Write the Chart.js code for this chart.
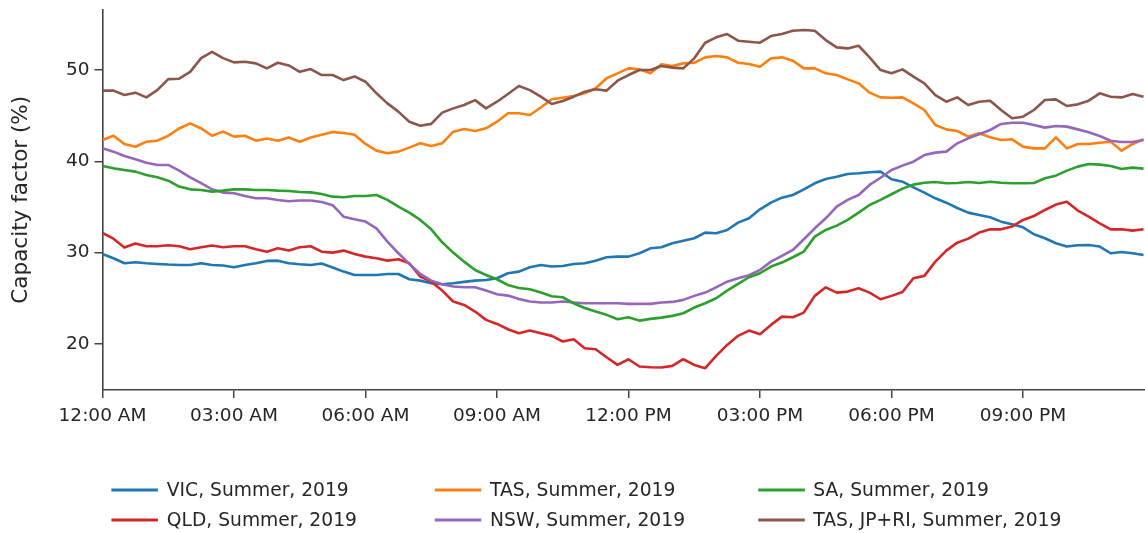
<!DOCTYPE html>
<html>
<head>
<meta charset="utf-8">
<script src="https://cdn.jsdelivr.net/npm/chart.js@4.4.1/dist/chart.umd.min.js"></script>
<style>
    html, body { margin: 0; padding: 0; background: #fff; overflow: hidden; }
</style>
</head>
<body>
<canvas id="capacity_factor_chart" width="1145" height="533"></canvas>
<script>
// minutes after midnight, one reading every 15 minutes
const minutes = Array.from({ length: 96 }, (_, i) => i * 15);

const series_labels = [
    "VIC, Summer, 2019",
    "QLD, Summer, 2019",
    "TAS, Summer, 2019",
    "NSW, Summer, 2019",
    "SA, Summer, 2019",
    "TAS, JP+RI, Summer, 2019"
];

const vic_values = [
    29.85, 29.38, 28.83, 28.94, 28.83, 28.76, 28.69, 28.65, 28.65, 28.83, 28.65, 28.58, 28.4, 28.65, 28.83, 29.09, 29.12, 28.83, 28.72, 28.65, 28.8, 28.36, 27.92, 27.55,
    27.55, 27.55, 27.66, 27.66, 27.08, 26.93, 26.64, 26.53, 26.64, 26.79, 26.93, 27.0, 27.19, 27.74, 27.92, 28.4, 28.65, 28.47, 28.54, 28.76, 28.83, 29.12, 29.49, 29.56,
    29.56, 29.93, 30.47, 30.58, 31.02, 31.31, 31.57, 32.19, 32.12, 32.48, 33.28, 33.76, 34.74, 35.47, 36.02, 36.31, 36.93, 37.59, 38.07, 38.32, 38.61, 38.69, 38.8, 38.87,
    38.03, 37.77, 37.15, 36.57, 35.95, 35.47, 34.89, 34.38, 34.12, 33.87, 33.39, 33.1, 32.77, 32.01, 31.57, 31.02, 30.66, 30.8, 30.84, 30.66, 29.93, 30.07, 29.93, 29.74
];

const qld_values = [
    32.15, 31.53, 30.55, 31.0, 30.7, 30.7, 30.8, 30.7, 30.36, 30.58, 30.77, 30.58, 30.7, 30.7, 30.36, 30.1, 30.47, 30.22, 30.58, 30.7, 30.1, 30.0, 30.22, 29.85,
    29.56, 29.38, 29.12, 29.27, 28.83, 27.37, 26.82, 25.84, 24.64, 24.27, 23.54, 22.63, 22.19, 21.6, 21.17, 21.46, 21.17, 20.88, 20.26, 20.51, 19.53, 19.42, 18.54, 17.7,
    18.32, 17.52, 17.45, 17.41, 17.59, 18.32, 17.7, 17.34, 18.69, 19.89, 20.88, 21.46, 21.06, 22.08, 22.99, 22.92, 23.43, 25.26, 26.2, 25.62, 25.73, 26.09, 25.62, 24.89,
    25.26, 25.69, 27.19, 27.45, 29.01, 30.22, 31.09, 31.53, 32.19, 32.55, 32.55, 32.85, 33.58, 34.01, 34.67, 35.26, 35.58, 34.6, 33.94, 33.21, 32.55, 32.55, 32.41, 32.55
];

const tas_values = [
    42.34, 42.8, 41.9, 41.6, 42.15, 42.26, 42.8, 43.6, 44.16, 43.6, 42.8, 43.25, 42.7, 42.8, 42.26, 42.5, 42.26, 42.6, 42.15, 42.6, 42.9, 43.2, 43.1, 42.9,
    41.9, 41.17, 40.88, 41.06, 41.5, 41.97, 41.68, 41.97, 43.25, 43.54, 43.32, 43.61, 44.34, 45.26, 45.26, 45.07, 45.9, 46.79, 46.97, 47.15, 47.45, 48.0, 49.1, 49.64,
    50.18, 50.07, 49.64, 50.62, 50.44, 50.73, 50.8, 51.39, 51.53, 51.39, 50.8, 50.66, 50.36, 51.28, 51.39, 51.02, 50.18, 50.18, 49.64, 49.45, 48.98, 48.54, 47.52, 47.0,
    46.97, 47.0, 46.35, 45.62, 43.98, 43.5, 43.32, 42.7, 43.07, 42.63, 42.34, 42.41, 41.61, 41.42, 41.42, 42.63, 41.42, 41.9, 41.9, 42.04, 42.15, 41.17, 41.9, 42.41
];

const nsw_values = [
    41.42, 41.06, 40.58, 40.22, 39.85, 39.6, 39.6, 38.98, 38.25, 37.6, 36.93, 36.57, 36.5, 36.2, 35.95, 35.95, 35.77, 35.62, 35.7, 35.7, 35.55, 35.2, 33.94, 33.65,
    33.4, 32.66, 31.2, 29.93, 28.76, 27.66, 26.93, 26.53, 26.28, 26.2, 26.2, 25.84, 25.44, 25.29, 24.93, 24.64, 24.53, 24.53, 24.64, 24.53, 24.45, 24.45, 24.45, 24.45,
    24.38, 24.38, 24.38, 24.53, 24.6, 24.82, 25.26, 25.62, 26.2, 26.82, 27.19, 27.52, 28.1, 29.01, 29.64, 30.29, 31.46, 32.66, 33.76, 35.04, 35.77, 36.31, 37.41, 38.2,
    39.05, 39.53, 39.96, 40.69, 40.95, 41.06, 41.97, 42.52, 42.96, 43.43, 44.09, 44.23, 44.23, 43.98, 43.69, 43.87, 43.8, 43.5, 43.18, 42.77, 42.26, 42.12, 42.12, 42.34
];

const sa_values = [
    39.49, 39.23, 39.05, 38.87, 38.5, 38.25, 37.88, 37.23, 36.93, 36.86, 36.68, 36.79, 36.93, 36.93, 36.86, 36.86, 36.79, 36.75, 36.64, 36.6, 36.42, 36.13, 36.06, 36.2,
    36.2, 36.31, 35.77, 35.04, 34.38, 33.58, 32.55, 31.13, 30.0, 29.01, 28.1, 27.55, 27.08, 26.45, 26.13, 25.99, 25.62, 25.22, 25.11, 24.45, 23.94, 23.54, 23.18, 22.7,
    22.92, 22.55, 22.74, 22.88, 23.07, 23.36, 23.98, 24.45, 25.0, 25.84, 26.57, 27.3, 27.74, 28.47, 28.91, 29.49, 30.11, 31.75, 32.48, 32.96, 33.58, 34.38, 35.22, 35.77,
    36.39, 37.01, 37.45, 37.66, 37.74, 37.59, 37.63, 37.74, 37.63, 37.77, 37.66, 37.59, 37.59, 37.63, 38.14, 38.43, 38.98, 39.42, 39.71, 39.64, 39.49, 39.16, 39.31, 39.2
];

const tas_jpri_values = [
    47.74, 47.74, 47.26, 47.52, 47.0, 47.8, 49.0, 49.05, 49.8, 51.3, 52.0, 51.3, 50.84, 50.9, 50.73, 50.18, 50.8, 50.5, 49.8, 50.1, 49.45, 49.45, 48.9, 49.3,
    48.72, 47.45, 46.35, 45.44, 44.34, 43.9, 44.1, 45.33, 45.8, 46.17, 46.7, 45.8, 46.53, 47.37, 48.25, 47.8, 47.08, 46.28, 46.6, 47.08, 47.63, 47.9, 47.74, 48.83,
    49.45, 50.0, 50.0, 50.44, 50.26, 50.18, 51.28, 52.99, 53.58, 53.94, 53.21, 53.1, 52.99, 53.72, 53.94, 54.3, 54.38, 54.3, 53.28, 52.48, 52.37, 52.66, 51.39, 50.0,
    49.64, 50.07, 49.27, 48.54, 47.26, 46.53, 47.0, 46.17, 46.53, 46.64, 45.62, 44.71, 44.89, 45.62, 46.72, 46.79, 46.06, 46.24, 46.64, 47.45, 47.08, 47.0, 47.37, 47.08
];

const x_tick_minutes = [0, 180, 360, 540, 720, 900, 1080, 1260];
const x_tick_labels = ["12:00 AM", "03:00 AM", "06:00 AM", "09:00 AM", "12:00 PM", "03:00 PM", "06:00 PM", "09:00 PM"];
const y_tick_values = [20, 30, 40, 50];

const colours = ["#1f77b4", "#d62728", "#ff7f0e", "#9467bd", "#2ca02c", "#8c564b"];
const text_colour = "#262626";
const axis_colour = "#444444";
const font_family = "'DejaVu Sans', sans-serif";

const all_values = [vic_values, qld_values, tas_values, nsw_values, sa_values, tas_jpri_values];

// legend is laid out like matplotlib's ncol=3 legend (fills columns first)
const legend_line_x = [111.4, 434.8, 758.3];
const legend_text_x = [166.8, 490.1, 813.3];
const legend_row_y = [490, 520];
const legend_line_len = 46.5;

const gridLegend = {
    id: 'gridLegend',
    afterDraw(chart) {
        const ctx = chart.ctx;
        ctx.save();
        ctx.font = "18.7px " + font_family;
        ctx.textBaseline = 'middle';
        chart.data.datasets.forEach((ds, i) => {
            const col = Math.floor(i / 2);
            const row = i % 2;
            const y = legend_row_y[row];
            ctx.strokeStyle = ds.borderColor;
            ctx.lineWidth = 2.8;
            ctx.beginPath();
            ctx.moveTo(legend_line_x[col], y);
            ctx.lineTo(legend_line_x[col] + legend_line_len, y);
            ctx.stroke();
            ctx.fillStyle = text_colour;
            ctx.fillText(ds.label, legend_text_x[col], y + 1);
        });
        ctx.restore();
    }
};

const datasets = [];
for (var i = 0; i < series_labels.length; i++) {
    const points = [];
    for (var j = 0; j < minutes.length; j++) {
        points.push({ x: minutes[j], y: all_values[i][j] });
    }
    datasets.push({
        label: series_labels[i],
        data: points,
        borderColor: colours[i],
        backgroundColor: colours[i],
        borderWidth: 2.6,
        pointRadius: 0,
        tension: 0,
        borderJoinStyle: 'round',
        // later series sit on top, as in the original plot
        order: series_labels.length - 1 - i
    });
}

const tick_font = { family: font_family, size: 18.5 };

const setup = {
    type: 'line',
    data: { datasets: datasets },
    options: {
        responsive: false,
        animation: false,
        layout: { padding: { top: 9.5, left: 0, right: 0, bottom: 0 } },
        plugins: {
            legend: { display: false },
            tooltip: { enabled: false }
        },
        scales: {
            x: {
                type: 'linear',
                min: 0,
                max: 1427,
                afterBuildTicks: (scale) => { scale.ticks = x_tick_minutes.map(v => ({ value: v })); },
                afterFit: (scale) => { scale.height = 143; scale.paddingLeft = 0; scale.paddingRight = 0; },
                ticks: {
                    callback: (value, index) => x_tick_labels[index],
                    font: tick_font,
                    color: text_colour,
                    padding: 7,
                    maxRotation: 0,
                    autoSkip: false
                },
                grid: { drawOnChartArea: false, drawTicks: true, tickLength: 8, color: axis_colour, lineWidth: 1.5 },
                border: { color: axis_colour, width: 1.6 }
            },
            y: {
                min: 14.95,
                max: 56.63,
                afterBuildTicks: (scale) => { scale.ticks = y_tick_values.map(v => ({ value: v })); },
                afterFit: (scale) => { scale.width = 102.5; scale.paddingTop = 0; scale.paddingBottom = 0; },
                ticks: {
                    font: tick_font,
                    color: text_colour,
                    padding: 5
                },
                grid: { drawOnChartArea: false, drawTicks: true, tickLength: 8, color: axis_colour, lineWidth: 1.5 },
                border: { color: axis_colour, width: 1.6 },
                title: {
                    display: true,
                    text: 'Capacity factor (%)',
                    color: text_colour,
                    font: { family: font_family, size: 21.5 },
                    padding: { top: 9, bottom: 0 }
                }
            }
        }
    },
    plugins: [gridLegend]
};

const canvas = document.getElementById("capacity_factor_chart");
const chart = new Chart(canvas, setup);
</script>
</body>
</html>
